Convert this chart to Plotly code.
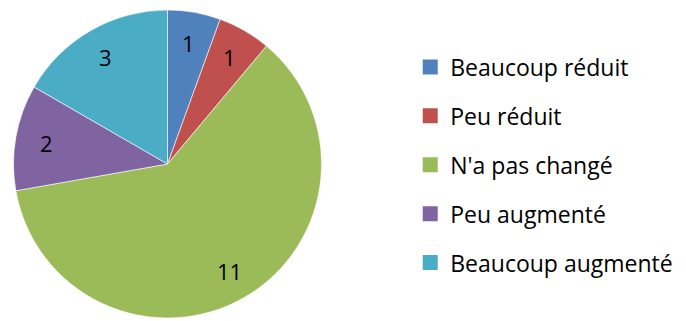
import math
import plotly.graph_objects as go

# Survey answers: how much things changed
categories = ["Beaucoup réduit", "Peu réduit", "N'a pas changé", "Peu augmenté", "Beaucoup augmenté"]
counts = [1, 1, 11, 2, 3]
colors = ["#4F81BD", "#C0504D", "#9BBB59", "#8064A2", "#4BACC6"]

W, H = 686, 321
# pie placement in pixels
cx, cy, R = 167.5, 164.0, 154.0
label_r = 0.8 * R
FONT = "Open Sans"

fig = go.Figure()
fig.add_trace(go.Pie(
    labels=categories,
    values=counts,
    marker=dict(colors=colors, line=dict(color="white", width=0.6)),
    sort=False,
    direction="clockwise",
    rotation=0,
    textinfo="none",
    hoverinfo="label+value",
    showlegend=False,
    domain=dict(x=[(cx - R) / W, (cx + R) / W], y=[(H - cy - R) / H, (H - cy + R) / H]),
))

# value labels placed on each slice's bisector
total = sum(counts)
cum = 0
for v in counts:
    mid = (cum + v / 2) / total * 2 * math.pi
    cum += v
    px = cx + label_r * math.sin(mid)
    py = cy - label_r * math.cos(mid)
    fig.add_annotation(x=px / W, y=(H - py) / H, xref="paper", yref="paper",
                       xanchor="center", yanchor="middle",
                       text=str(v), showarrow=False,
                       font=dict(family=FONT, size=22, color="black"))

# legend entries
for name, c in zip(categories, colors):
    fig.add_trace(go.Scatter(
        x=[None], y=[None], mode="markers", name=name, legendgroup=name,
        marker=dict(symbol="square", size=15, color=c),
        showlegend=True, hoverinfo="skip",
    ))

fig.update_layout(
    width=W, height=H,
    margin=dict(l=0, r=0, t=0, b=0),
    paper_bgcolor="white", plot_bgcolor="white",
    xaxis=dict(visible=False), yaxis=dict(visible=False),
    legend=dict(x=0.598, y=(H - 165) / H, xanchor="left", yanchor="middle",
                font=dict(family=FONT, size=23, color="black"),
                tracegroupgap=16, itemclick=False, itemdoubleclick=False,
                bgcolor="rgba(0,0,0,0)"),
    font=dict(family=FONT),
)

fig.write_html("out.html")
